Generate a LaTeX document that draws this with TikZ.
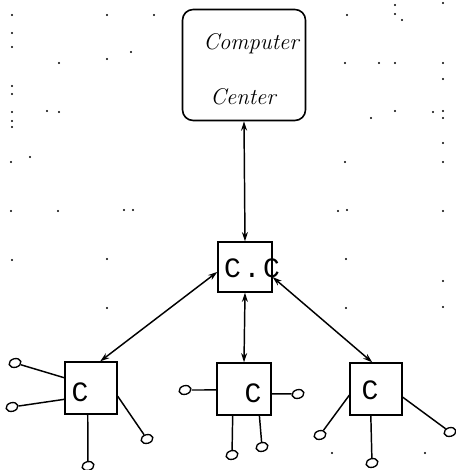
\documentclass[tikz,border=0pt]{standalone}
\usepackage{fontspec}
\newfontfamily\monofont{Liberation Mono}
\usetikzlibrary{arrows.meta,shapes.geometric}
\begin{document}
\begin{tikzpicture}[x=0.75pt,y=-0.75pt,
  box/.style={draw, line width=1pt, inner sep=0, minimum width=39pt, minimum height=39pt},
  cbox/.style={draw, line width=1.2pt, rounded corners=8pt, inner sep=0, minimum width=92.25pt, minimum height=83.25pt},
  term/.style={draw, ellipse, line width=1pt, inner sep=0, minimum width=9pt, minimum height=6.5pt, rotate=15},
  ttlabel/.style={font=\monofont\fontsize{21}{23}\selectfont, inner sep=0},
  hand/.style={font=\fontsize{17}{20}\selectfont\itshape, inner sep=0},
  link/.style={line width=1.1pt},
  arr/.style={line width=1.1pt, {Stealth[length=7pt,width=4.5pt]}-{Stealth[length=7pt,width=4.5pt]}}]
\useasboundingbox (0,0) rectangle (455,470);
% background dots of the paper
\foreach \x/\y in {12/15,107/15,154/15,347/15,395/14,395/5,443/3,402/20,
  12/33,12/47,131/52,107/59,59/63,345/63,379/63,395/63,443/63,443/79,
  12/86,12/94,12/112,47/111,59/112,395/111,433/112,443/111,371/118,443/118,12/121,12/127,
  443/143,30/157,11/162,345/162,443/162,
  11/211,58/211,124/210,133/210,338/211,347/210,443/211,
  12/260,107/259,346/259,443/281,
  107/308,346/308,443/307,
  332/453,425/453}
  \fill (\x,\y) circle[radius=1.1];
% nodes
\node[cbox] (comp) at (244,65) {};
\node[hand] (compa) at (251,44) {Computer};
\node[hand] (compb) at (243,97) {Center};
\node[box, minimum width=40.5pt, minimum height=37.5pt] (cc) at (245,267) {};
\node[ttlabel] (cct) at (252,268) {C\hspace{2pt}.\hspace{2pt}C};
\node[box] (L) at (91,388) {};
\node[ttlabel] (Lt) at (80,392) {C};
\node[box, minimum width=40.5pt] (M) at (244,389) {};
\node[ttlabel] (Mt) at (253,393) {C};
\node[box] (R) at (376,389) {};
\node[ttlabel] (Rt) at (370,390) {C};
% terminals
\node[term] (l1) at (15,363) {};
\node[term] (l2) at (12,407) {};
\node[term] (l3) at (88,466) {};
\node[term] (l4) at (147,439) {};
\node[term] (m1) at (185,390) {};
\node[term] (m2) at (298,394) {};
\node[term] (m3) at (232,455) {};
\node[term] (m4) at (262,447) {};
\node[term] (r1) at (320,435) {};
\node[term] (r2) at (372,463) {};
\node[term] (r3) at (450,432) {};
% connectors
\draw[arr] (cc.north) -- (comp.south);
\draw[arr] (cc.south) -- (M.north);
\draw[arr] (cc.190) -- (L.71);
\draw[arr] (cc.340) -- (R.98);
\draw[link] (L.159) -- (l1);
\draw[link] (L.203) -- (l2);
\draw[link] (L.263) -- (l3);
\draw[link] (L.343) -- (l4);
\draw[link] (M.182) -- (m1);
\draw[link] (M.350) -- (m2);
\draw[link] (M.247) -- (m3);
\draw[link] (M.300) -- (m4);
\draw[link] (R.193) -- (r1);
\draw[link] (R.259) -- (r2);
\draw[link] (R.343) -- (r3);
\end{tikzpicture}
\end{document}
